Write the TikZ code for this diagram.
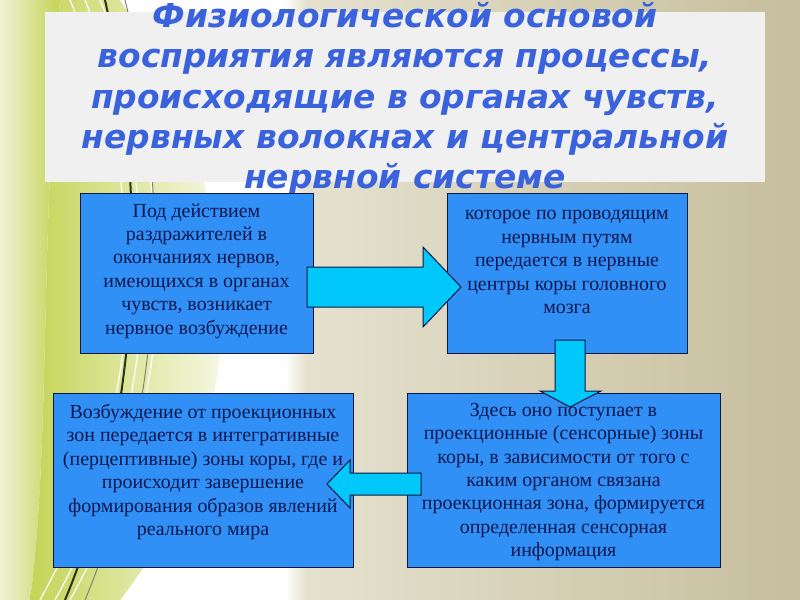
\documentclass[tikz,border=0pt]{standalone}
\usepackage{fontspec}
\setmainfont{Liberation Serif}
\newfontfamily\headfont{DejaVu Sans}

\definecolor{cardblue}{RGB}{48,144,245}
\definecolor{cardedge}{RGB}{12,22,66}
\definecolor{cardink}{RGB}{14,24,80}
\definecolor{arrowcyan}{RGB}{0,200,250}
\definecolor{headblue}{RGB}{58,98,220}
\definecolor{headback}{RGB}{240,240,240}
\definecolor{sandlight}{RGB}{230,226,208}
\definecolor{sanddark}{RGB}{198,190,156}
\definecolor{leafgreen}{RGB}{196,212,86}
\definecolor{leafpale}{RGB}{240,242,212}
\definecolor{leafdark}{RGB}{40,52,20}

\tikzset{
    card/.style={draw=cardedge, line width=1.2bp, fill=cardblue, anchor=north west, inner sep=0pt},
    cardtext/.style={text=cardink, align=center, font=\fontsize{20}{23.5}\selectfont},
    flowarrow/.style={draw=cardedge, line width=1bp, fill=arrowcyan, line join=miter},
}

\begin{document}
\begin{tikzpicture}[x=1bp, y=-1bp]
            \useasboundingbox (0, 0) rectangle (800, 600);

            % background
            \fill[white] (0, 0) rectangle (310, 600);
            \shade[left color=sandlight, right color=sanddark] (300, 0) rectangle (800, 600);
            \shade[left color=white, right color=sandlight] (285, 0) rectangle (305, 600);
            \shade[left color=leafpale, right color=leafgreen]
                (0, 0) -- (60, 0) .. controls (40, 250) and (50, 450) .. (30, 600) -- (0, 600) -- cycle;
            \shade[left color=leafgreen, right color=white]
                (60, 0) -- (120, 0) .. controls (250, 200) and (260, 420) .. (120, 600)
                -- (30, 600) .. controls (50, 450) and (40, 250) .. (60, 0) -- cycle;
            \foreach \x in {70, 85, 100}{
                \draw[white, line width=1.2bp] (\x, 0) .. controls (\x + 90, 220) and (\x + 70, 420) .. (\x - 30, 600);
            }
            \draw[leafdark, line width=2bp] (105, 0) .. controls (150, 200) and (140, 420) .. (65, 600);
            \draw[leafdark!60, line width=1bp] (125, 0) .. controls (175, 200) and (160, 420) .. (85, 600);

            % title
            \fill[headback] (45, 12) rectangle (765, 182);
            \node[text=headblue, align=center,
                  font=\headfont\bfseries\itshape\fontsize{33}{40.5}\selectfont] (title) at (405, 99)
                {Физиологической основой\\
                 восприятия являются процессы,\\
                 происходящие в органах чувств,\\
                 нервных волокнах и центральной\\
                 нервной системе};

            % boxes
            \node[card, minimum width=233bp, minimum height=160bp] (b1) at (80, 193) {};
            \node[card, minimum width=240bp, minimum height=160bp] (b2) at (447, 193) {};
            \node[card, minimum width=300bp, minimum height=174bp] (b3) at (53, 393) {};
            \node[card, minimum width=313bp, minimum height=174bp] (b4) at (407, 393) {};

            % arrows
            \draw[flowarrow] (307, 267) -- (423, 267) -- (423, 247) -- (461, 287)
                -- (423, 327) -- (423, 307) -- (307, 307) -- cycle;
            \draw[flowarrow] (555, 340) -- (585, 340) -- (585, 391) -- (601, 391)
                -- (570, 407) -- (540, 391) -- (555, 391) -- cycle;
            \draw[flowarrow] (421, 473) -- (350, 473) -- (350, 460) -- (327, 484)
                -- (350, 508) -- (350, 495) -- (421, 495) -- cycle;

            % texts
            \node[cardtext] (t1) at (196.5, 271)
                {Под действием\\ раздражителей в\\ окончаниях нервов,\\ имеющихся в органах\\
                 чувств, возникает\\ нервное возбуждение};
            \node[cardtext] (t2) at (567, 262)
                {которое по проводящим\\ нервным путям\\ передается в нервные\\
                 центры коры головного\\ мозга};
            \node[cardtext] (t3) at (203, 472)
                {Возбуждение от проекционных\\ зон передается в интегративные\\
                 (перцептивные) зоны коры, где и\\ происходит завершение\\
                 формирования образов явлений\\ реального мира};
            \node[cardtext] (t4) at (563.5, 482)
                {Здесь оно поступает в\\ проекционные (сенсорные) зоны\\
                 коры, в зависимости от того с\\ каким органом связана\\
                 проекционная зона, формируется\\ определенная сенсорная\\ информация};

        \end{tikzpicture}
\end{document}
